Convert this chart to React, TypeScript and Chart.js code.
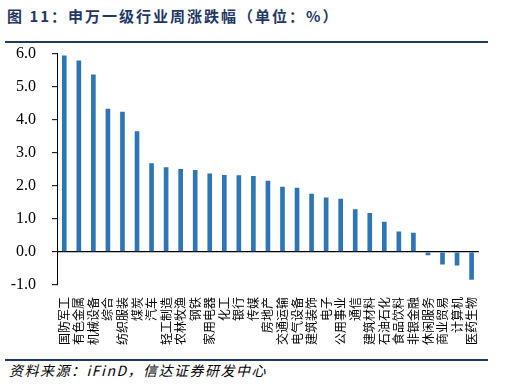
import React, { useEffect, useRef } from 'react';
import { Chart, registerables } from 'chart.js';

Chart.register(...registerables);

const titleText = '图 11：申万一级行业周涨跌幅（单位：%）';
const sourceText = '资料来源：iFinD，信达证券研发中心';

const categories = [
  '国防军工', '有色金属', '机械设备', '综合', '纺织服装', '煤炭', '汽车', '轻工制造',
  '农林牧渔', '钢铁', '家用电器', '化工', '银行', '传媒', '房地产', '交通运输',
  '电气设备', '建筑装饰', '电子', '公用事业', '通信', '建筑材料', '石油石化',
  '食品饮料', '非银金融', '休闲服务', '商业贸易', '计算机', '医药生物',
];

const weeklyChange = [
  5.94, 5.79, 5.37, 4.33, 4.24, 3.65, 2.68, 2.56,
  2.51, 2.48, 2.37, 2.33, 2.32, 2.30, 2.15, 1.97,
  1.94, 1.76, 1.65, 1.61, 1.29, 1.18, 0.91,
  0.62, 0.58, -0.10, -0.38, -0.41, -0.84,
];

const yMin = -1;
const yMax = 6;
const yStep = 1;

const NAVY = '#1F3864';

export default function App() {
  const ref = useRef<HTMLCanvasElement>(null);

  useEffect(() => {
    const chart = new Chart(ref.current as HTMLCanvasElement, {
      type: 'bar',
      data: {
        labels: categories,
        datasets: [
          {
            data: weeklyChange,
            backgroundColor: '#2E75B6',
            borderWidth: 0,
            barPercentage: 0.32,
            categoryPercentage: 1,
          },
        ],
      },
      options: {
        animation: false,
        responsive: false,
        maintainAspectRatio: false,
        layout: { padding: 0 },
        plugins: { legend: { display: false }, tooltip: { enabled: false } },
        scales: {
          x: {
            afterFit: (s: any) => {
              s.height = 60;
            },
            grid: { display: false, drawTicks: false },
            border: { display: false },
            ticks: {
              minRotation: 90,
              maxRotation: 90,
              autoSkip: false,
              padding: 12,
              color: '#000',
              font: { family: 'Noto Sans CJK SC', size: 12 },
            },
          },
          y: {
            min: yMin,
            max: yMax,
            afterFit: (s: any) => {
              s.width = 57;
            },
            border: { display: true, color: '#000', width: 1 },
            grid: {
              color: (c: any) => (c.tick && c.tick.value === 0 ? '#000' : 'rgba(0,0,0,0)'),
              lineWidth: 1.3,
              tickColor: '#000',
              tickLength: 5,
              tickWidth: 1,
            },
            ticks: {
              stepSize: yStep,
              padding: 16,
              color: '#000',
              font: { family: 'Liberation Serif', size: 16 },
              callback: (v: any) => Number(v).toFixed(1),
            },
          },
        },
      },
    });
    let alive = true;
    if ((document as any).fonts && (document as any).fonts.ready) {
      (document as any).fonts.ready.then(() => {
        if (alive) chart.update();
      });
    }
    return () => {
      alive = false;
      chart.destroy();
    };
  }, []);

  return (
    <div
      style={{
        position: 'fixed',
        left: 0,
        top: 0,
        width: 521,
        height: 385,
        background: '#fff',
        overflow: 'hidden',
      }}
    >
      <span
        aria-hidden="true"
        style={{
          position: 'absolute',
          left: 0,
          top: 0,
          fontFamily: 'Liberation Serif',
          fontSize: 16,
          visibility: 'hidden',
        }}
      >
        6.0
      </span>
      <div
        style={{
          position: 'absolute',
          left: 7,
          top: 8,
          fontFamily: 'Noto Sans CJK SC',
          fontWeight: 'bold',
          fontSize: 15,
          lineHeight: '15px',
          letterSpacing: 2,
          color: NAVY,
          whiteSpace: 'nowrap',
        }}
      >
        {titleText}
      </div>
      <div style={{ position: 'absolute', left: 5, top: 41, width: 483, height: 2, background: NAVY }} />
      <canvas
        ref={ref}
        width={498}
        height={317}
        style={{ position: 'absolute', left: 0, top: 28, width: 498, height: 317 }}
      />
      <div style={{ position: 'absolute', left: 5, top: 359, width: 483, height: 2, background: NAVY }} />
      <div
        style={{
          position: 'absolute',
          left: 9,
          top: 363,
          fontFamily: 'Noto Sans CJK SC',
          fontStyle: 'italic',
          fontSize: 14,
          lineHeight: '14px',
          letterSpacing: 1.5,
          color: '#000',
          whiteSpace: 'nowrap',
        }}
      >
        {sourceText}
      </div>
    </div>
  );
}
